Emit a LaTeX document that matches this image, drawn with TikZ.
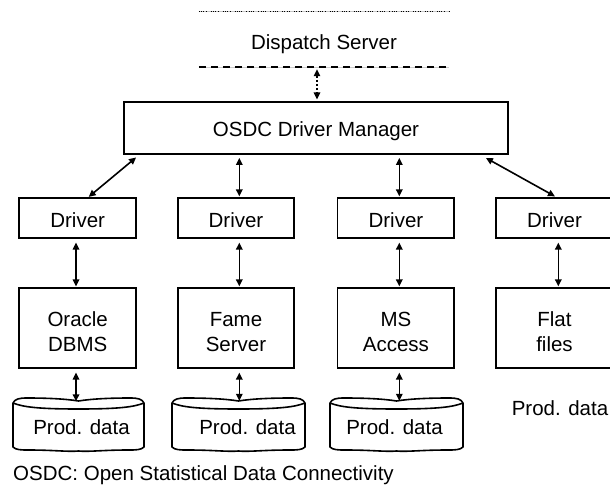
\documentclass[tikz,border=0pt]{standalone}
\usepackage{fontspec}
\setmainfont{Liberation Sans}
\usetikzlibrary{arrows.meta,calc}
\newcommand{\storeoutline}[2]{%
  \pgfmathsetmacro{\sL}{#1}\pgfmathsetmacro{\sR}{#2}\pgfmathsetmacro{\sM}{(#1+#2)/2}%
  \draw[outline] (\sL,403) .. controls (\sL+2,399) and (\sL+6,398) .. (\sL+14,398)
     .. controls (\sM-30,398) and (\sM-12,399) .. (\sM,401)
     .. controls (\sM+12,399) and (\sM+30,398) .. (\sR-14,398)
     .. controls (\sR-6,398) and (\sR-2,399) .. (\sR,403)
     -- (\sR,447) .. controls (\sR-3,450) and (\sR-8,450) .. (\sR-16,450)
     .. controls (\sM+25,450) and (\sM+10,452) .. (\sM,451)
     .. controls (\sM-10,452) and (\sM-25,450) .. (\sL+16,450)
     .. controls (\sL+8,450) and (\sL+3,450) .. (\sL,447) -- cycle;
  \draw[outline] (\sL,403) .. controls (\sL+10,407) and (\sL+25,409) .. (\sM,409)
     .. controls (\sR-25,409) and (\sR-10,407) .. (\sR,403);
}
\begin{document}
\begin{tikzpicture}[x=1pt,y=-1pt,
  every node/.style={font=\fontsize{20.5}{25}\selectfont},
  every label/.style={align=center,inner sep=0pt},
  box/.style={draw=black,line width=1.8pt,rectangle,inner sep=0pt},
  drv/.style={box,minimum width=116.7pt,minimum height=40pt},
  src/.style={box,minimum width=116.7pt,minimum height=80.6pt},
  store/.style={rectangle,inner sep=0pt,minimum width=120pt,minimum height=52pt},
  dbl/.style={line width=1.6pt,{Triangle[length=7pt,width=6.5pt]}-{Triangle[length=7pt,width=6.5pt]}},
  outline/.style={line width=1.6pt,line join=round}]
\useasboundingbox (0,0) rectangle (610,486);

% Dispatch server (dashed box, top and bottom edges only)
\node[rectangle,inner sep=0pt,minimum width=250pt,minimum height=55pt,
  label={[yshift=-5pt]center:Dispatch Server}] (disp) at (324,39.5) {};
\draw[gray!45,line width=0.9pt] (disp.north west) -- (disp.north east);
\draw[line width=0.9pt,dash pattern=on 1pt off 1.3pt on 1pt off 1.3pt on 1pt off 1.3pt on 1pt off 4pt] (disp.north west) -- (disp.north east);
\draw[gray!40,line width=1pt] (disp.south west) -- (disp.south east);
\draw[line width=2.3pt,dash pattern=on 7pt off 5pt] (disp.south west) -- (disp.south east);

% Manager
\node[box,minimum width=384pt,minimum height=51.7pt,
  label={[yshift=-3.5pt]center:OSDC Driver Manager}] (mgr) at (316,128.2) {};

% Drivers
\node[drv,label={[yshift=-1.7pt]center:Driver}] (d1) at (77.7,218.3) {};
\node[drv,label={[yshift=-1.7pt]center:Driver}] (d2) at (236,218.3) {};
\node[drv,label={[yshift=-1.7pt]center:Driver}] (d3) at (395.9,218.3) {};
\node[drv,label={[yshift=-1.7pt]center:Driver}] (d4) at (554.5,218.3) {};

% Sources
\node[src,label={[yshift=-3.7pt]center:Oracle\\DBMS}] (o1) at (77.7,328) {};
\node[src,label={[yshift=-3.7pt]center:Fame\\Server}] (o2) at (236,328) {};
\node[src,label={[yshift=-3.7pt]center:MS\\Access}] (o3) at (395.9,328) {};
\node[src,label={[yshift=-3.7pt]center:Flat\\files}] (o4) at (554.5,328) {};

% Stores
\storeoutline{13}{144}
\storeoutline{172}{305}
\storeoutline{330}{463}
\node[store] (c1) at (81.5,427.5) {Prod. data};
\node[store] (c2) at (247.5,427) {Prod. data};
\node[store] (c3) at (394.5,427) {Prod. data};
\node[anchor=base,inner sep=0pt] (c4) at (560,415) {Prod. data};

% Caption
\node[anchor=base west,inner sep=0pt] (cap) at (13,480) {OSDC: Open Statistical Data Connectivity};

% Connectors
\draw[dbl,line width=1.4pt,dash pattern=on 2.5pt off 1.5pt] ($(disp.south)+(-7,2)$) -- ($(mgr.north)+(1,-2)$);

\draw[dbl] ($(mgr.south west)+(13,2.5)$) -- ($(d1.north)+(11,-0.5)$);
\draw[dbl] ($(d2.north |- mgr.south)+(3.3,3)$) -- ($(d2.north)+(3.3,-1)$);
\draw[dbl] ($(d3.north |- mgr.south)+(3.4,3)$) -- ($(d3.north)+(3.4,-1)$);
\draw[dbl] ($(mgr.south east)+(-23,3)$) -- ($(d4.north)+(0.5,-1)$);

\draw[dbl] ($(d1.south)+(-1.7,3.4)$) -- ($(o1.north)+(-1.7,-0.4)$);
\draw[dbl] ($(d2.south)+(3.3,3.4)$) -- ($(o2.north)+(3.3,-0.4)$);
\draw[dbl] ($(d3.south)+(3.4,3.4)$) -- ($(o3.north)+(3.4,-0.4)$);
\draw[dbl] ($(d4.south)+(3.8,3.4)$) -- ($(o4.north)+(3.8,-0.4)$);

\draw[dbl] ($(o1.south)+(-1.7,3.4)$) -- ($(o1.south |- c1.north)+(-1.7,0)$);
\draw[dbl] ($(o2.south)+(3.3,3.4)$) -- ($(o2.south |- c2.north)+(3.3,0)$);
\draw[dbl] ($(o3.south)+(3.4,3.4)$) -- ($(o3.south |- c3.north)+(3.4,0)$);
\end{tikzpicture}
\end{document}
